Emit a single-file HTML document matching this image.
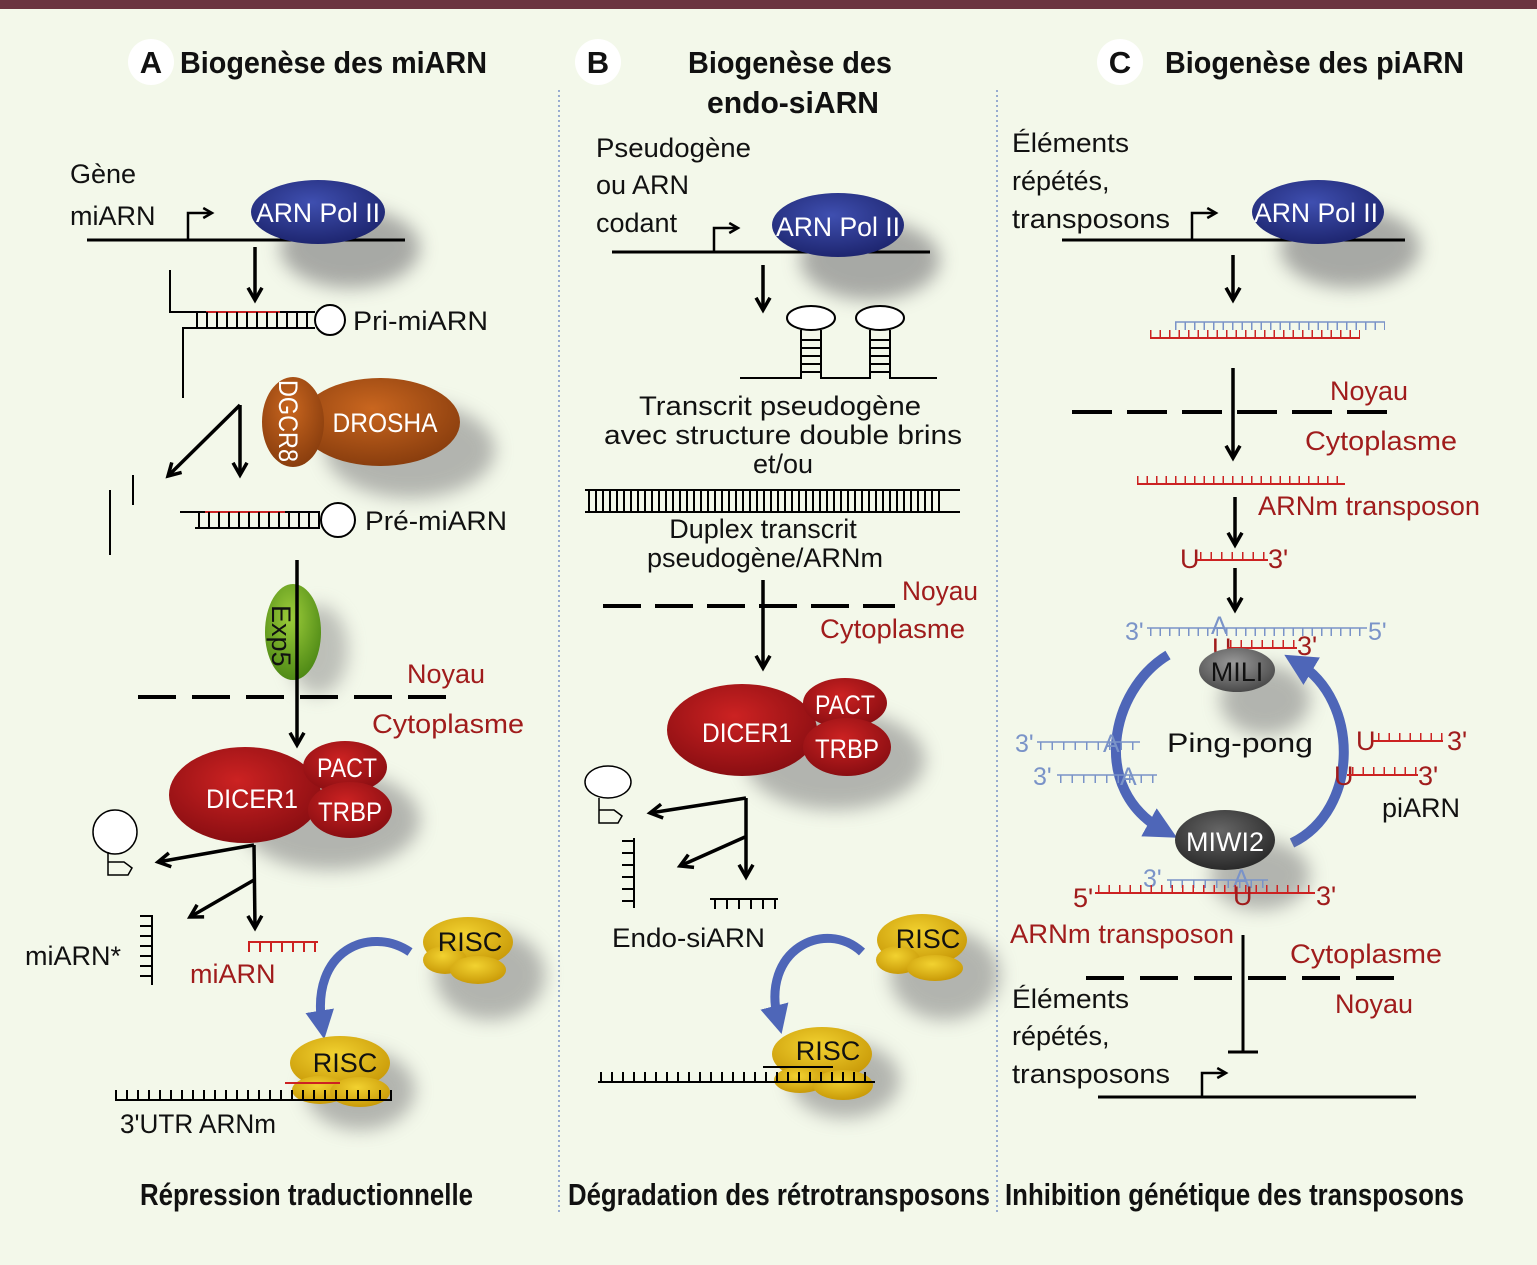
<!DOCTYPE html>
<html><head><meta charset="utf-8"><style>
html,body{margin:0;padding:0;background:#f3f8ea;}
svg{display:block;font-family:"Liberation Sans",sans-serif;}
.t{font-size:27px;fill:#111;}
.r{font-size:27px;fill:#a01c1c;}
.b{font-size:31px;font-weight:bold;fill:#111;}
.w{font-size:27px;fill:#fff;}
.bl{font-size:25px;fill:#7a93c8;}
</style></head><body>
<svg width="1537" height="1265" viewBox="0 0 1537 1265" xmlns="http://www.w3.org/2000/svg">
<defs>
<radialGradient id="gb" cx="45%" cy="35%" r="65%"><stop offset="0" stop-color="#3f4fb0"/><stop offset="1" stop-color="#1e2670"/></radialGradient>
<radialGradient id="gr" cx="45%" cy="35%" r="65%"><stop offset="0" stop-color="#cc2222"/><stop offset="1" stop-color="#8a0e12"/></radialGradient>
<radialGradient id="go" cx="45%" cy="35%" r="65%"><stop offset="0" stop-color="#c9661f"/><stop offset="1" stop-color="#8a3e0e"/></radialGradient>
<radialGradient id="gg" cx="45%" cy="35%" r="65%"><stop offset="0" stop-color="#9ccc3a"/><stop offset="1" stop-color="#4f8a16"/></radialGradient>
<radialGradient id="gy" cx="45%" cy="35%" r="65%"><stop offset="0" stop-color="#f2d230"/><stop offset="1" stop-color="#c99a08"/></radialGradient>
<radialGradient id="gk" cx="45%" cy="35%" r="65%"><stop offset="0" stop-color="#9a9a9a"/><stop offset="1" stop-color="#4a4a4a"/></radialGradient>
<radialGradient id="gk2" cx="45%" cy="35%" r="65%"><stop offset="0" stop-color="#666"/><stop offset="1" stop-color="#2a2a2a"/></radialGradient>
<filter id="bl" x="-50%" y="-50%" width="200%" height="200%"><feGaussianBlur stdDeviation="9"/></filter>
<marker id="ah" viewBox="0 0 10 10" refX="8" refY="5" markerWidth="5" markerHeight="5" orient="auto"><path d="M1,1 L8,5 L1,9" fill="none" stroke="#000" stroke-width="2"/></marker>
<marker id="ab" viewBox="0 0 10 10" refX="5" refY="5" markerWidth="3.2" markerHeight="3.2" orient="auto"><path d="M0,0 L10,5 L0,10 z" fill="#4e66b8"/></marker>
</defs>
<rect x="0" y="0" width="1537" height="1265" fill="#f3f8ea"/>
<rect x="0" y="0" width="1537" height="9" fill="#6b3440"/>
<line x1="559" y1="90" x2="559" y2="1212" stroke="#7a93c8" stroke-width="1.5" stroke-dasharray="2 3"/>
<line x1="997" y1="90" x2="997" y2="1212" stroke="#7a93c8" stroke-width="1.5" stroke-dasharray="2 3"/>

<circle cx="151" cy="62" r="23" fill="#fff"/><text x="151" y="73" class="b" text-anchor="middle" font-size="27">A</text>
<text x="180" y="73" class="b" textLength="307" lengthAdjust="spacingAndGlyphs">Biogenèse des miARN</text>
<circle cx="598" cy="62" r="23" fill="#fff"/><text x="598" y="73" class="b" text-anchor="middle" font-size="27">B</text>
<text x="688" y="73" class="b" textLength="204" lengthAdjust="spacingAndGlyphs">Biogenèse des</text>
<text x="707" y="113" class="b" textLength="172" lengthAdjust="spacingAndGlyphs">endo-siARN</text>
<circle cx="1120" cy="62" r="23" fill="#fff"/><text x="1120" y="73" class="b" text-anchor="middle" font-size="27">C</text>
<text x="1165" y="73" class="b" textLength="299" lengthAdjust="spacingAndGlyphs">Biogenèse des piARN</text>

<g stroke-linecap="butt">
<!-- ===== Panel A ===== -->
<text x="70" y="183" class="t">Gène</text>
<text x="70" y="225" class="t">miARN</text>
<ellipse cx="350" cy="248" rx="70" ry="40" fill="#888" opacity="0.7" filter="url(#bl)"/>
<line x1="87" y1="240" x2="405" y2="240" stroke="#000" stroke-width="3"/>
<polyline points="188,240 188,213 212,213" fill="none" stroke="#000" stroke-width="2.5" marker-end="url(#ah)"/>
<ellipse cx="318" cy="212" rx="67" ry="32" fill="url(#gb)"/>
<text x="318" y="222" class="w" text-anchor="middle" textLength="124" lengthAdjust="spacingAndGlyphs">ARN Pol II</text>
<line x1="255" y1="247" x2="255" y2="300" stroke="#000" stroke-width="3.5" marker-end="url(#ah)"/>
<polyline points="170,270 170,312 196,312" fill="none" stroke="#000" stroke-width="2"/>
<polyline points="183,398 183,328 196,328" fill="none" stroke="#000" stroke-width="2"/>
<line x1="196" y1="312" x2="315" y2="312" stroke="#000" stroke-width="2"/>
<line x1="206" y1="312" x2="280" y2="312" stroke="#c22" stroke-width="2"/>
<line x1="196" y1="328" x2="315" y2="328" stroke="#000" stroke-width="2"/>
<line x1="196" y1="320" x2="315" y2="320" stroke="#000" stroke-width="16" stroke-dasharray="2 8"/>
<circle cx="330" cy="320" r="15" fill="#fff" stroke="#000" stroke-width="2"/>
<text x="353" y="330" class="t" textLength="135" lengthAdjust="spacingAndGlyphs">Pri-miARN</text>
<ellipse cx="410" cy="450" rx="85" ry="48" fill="#888" opacity="0.6" filter="url(#bl)"/>
<ellipse cx="380" cy="422" rx="80" ry="44" fill="url(#go)"/>
<ellipse cx="293" cy="422" rx="31" ry="45" fill="url(#go)"/>
<text x="385" y="432" class="w" text-anchor="middle" textLength="105" lengthAdjust="spacingAndGlyphs">DROSHA</text>
<text transform="translate(279,380) rotate(90)" x="0" y="0" class="w" font-size="22" textLength="82" lengthAdjust="spacingAndGlyphs">DGCR8</text>
<line x1="240" y1="405" x2="240" y2="475" stroke="#000" stroke-width="3.5" marker-end="url(#ah)"/>
<path d="M240,405 L168,476" stroke="#000" stroke-width="3.5" marker-end="url(#ah)" fill="none"/>
<line x1="110" y1="490" x2="110" y2="555" stroke="#000" stroke-width="2"/>
<line x1="133" y1="475" x2="133" y2="505" stroke="#000" stroke-width="2"/>
<line x1="180" y1="512" x2="320" y2="512" stroke="#000" stroke-width="2"/>
<line x1="205" y1="512" x2="285" y2="512" stroke="#c22" stroke-width="2"/>
<line x1="195" y1="528" x2="320" y2="528" stroke="#000" stroke-width="2"/>
<line x1="198" y1="520" x2="320" y2="520" stroke="#000" stroke-width="16" stroke-dasharray="2 8"/>
<circle cx="338" cy="520" r="17" fill="#fff" stroke="#000" stroke-width="2"/>
<text x="365" y="530" class="t" textLength="142" lengthAdjust="spacingAndGlyphs">Pré-miARN</text>
<ellipse cx="318" cy="650" rx="30" ry="45" fill="#888" opacity="0.5" filter="url(#bl)"/>
<ellipse cx="293" cy="632" rx="28" ry="48" fill="url(#gg)"/>
<text transform="translate(272,605) rotate(90)" class="t" font-size="24" fill="#222">Exp5</text>
<line x1="297" y1="560" x2="297" y2="745" stroke="#000" stroke-width="3.5" marker-end="url(#ah)"/>
<line x1="138" y1="697" x2="462" y2="697" stroke="#000" stroke-width="4" stroke-dasharray="38 16"/>
<text x="407" y="683" class="r">Noyau</text>
<text x="372" y="733" class="r" textLength="152" lengthAdjust="spacingAndGlyphs">Cytoplasme</text>
<ellipse cx="330" cy="820" rx="90" ry="50" fill="#888" opacity="0.6" filter="url(#bl)"/>
<ellipse cx="245" cy="795" rx="76" ry="48" fill="url(#gr)"/>
<ellipse cx="345" cy="767" rx="42" ry="26" fill="url(#gr)"/>
<ellipse cx="350" cy="810" rx="42" ry="28" fill="url(#gr)"/>
<text x="252" y="808" class="w" text-anchor="middle" textLength="92" lengthAdjust="spacingAndGlyphs">DICER1</text>
<text x="347" y="777" class="w" text-anchor="middle" textLength="60" lengthAdjust="spacingAndGlyphs">PACT</text>
<text x="350" y="821" class="w" text-anchor="middle" textLength="64" lengthAdjust="spacingAndGlyphs">TRBP</text>
<circle cx="115" cy="832" r="22" fill="#fff" stroke="#000" stroke-width="1.5"/>
<path d="M108,852 V875 H128 L132,868 L124,862 H108" fill="none" stroke="#000" stroke-width="1.5"/>
<line x1="254" y1="845" x2="255" y2="928" stroke="#000" stroke-width="3.5" marker-end="url(#ah)"/>
<path d="M254,845 L158,862" stroke="#000" stroke-width="3.5" marker-end="url(#ah)" fill="none"/>
<path d="M254,880 L190,917" stroke="#000" stroke-width="3.5" marker-end="url(#ah)" fill="none"/>
<line x1="152" y1="915" x2="152" y2="985" stroke="#000" stroke-width="2"/>
<line x1="146" y1="915" x2="146" y2="985" stroke="#000" stroke-width="12" stroke-dasharray="2 8"/>
<text x="25" y="965" class="t">miARN*</text>
<line x1="248" y1="942" x2="318" y2="942" stroke="#c22" stroke-width="2"/>
<line x1="248" y1="947" x2="318" y2="947" stroke="#c22" stroke-width="10" stroke-dasharray="2 9"/>
<text x="190" y="983" class="r">miARN</text>
<ellipse cx="490" cy="975" rx="55" ry="45" fill="#888" opacity="0.6" filter="url(#bl)"/>
<ellipse cx="468" cy="942" rx="45" ry="25" fill="url(#gy)"/>
<ellipse cx="445" cy="960" rx="22" ry="14" fill="url(#gy)"/>
<ellipse cx="478" cy="970" rx="28" ry="14" fill="url(#gy)"/>
<text x="470" y="951" class="t" text-anchor="middle">RISC</text>
<path d="M410,952 C370,925 310,950 322,1025" fill="none" stroke="#4e66b8" stroke-width="9" marker-end="url(#ab)"/>
<ellipse cx="360" cy="1090" rx="55" ry="40" fill="#888" opacity="0.6" filter="url(#bl)"/>
<ellipse cx="340" cy="1063" rx="50" ry="27" fill="url(#gy)"/>
<ellipse cx="320" cy="1090" rx="28" ry="14" fill="url(#gy)"/>
<ellipse cx="360" cy="1092" rx="30" ry="15" fill="url(#gy)"/>
<text x="345" y="1072" class="t" text-anchor="middle">RISC</text>
<line x1="115" y1="1100" x2="392" y2="1100" stroke="#000" stroke-width="2"/>
<line x1="115" y1="1095" x2="392" y2="1095" stroke="#000" stroke-width="10" stroke-dasharray="2 9"/>
<line x1="285" y1="1083" x2="340" y2="1083" stroke="#c22" stroke-width="2"/>
<text x="120" y="1133" class="t" textLength="156" lengthAdjust="spacingAndGlyphs">3'UTR ARNm</text>
<text x="140" y="1205" class="b" font-size="27" textLength="333" lengthAdjust="spacingAndGlyphs">Répression traductionnelle</text>

<!-- ===== Panel B ===== -->
<text x="596" y="157" class="t" textLength="155" lengthAdjust="spacingAndGlyphs">Pseudogène</text>
<text x="596" y="194" class="t">ou ARN</text>
<text x="596" y="232" class="t">codant</text>
<ellipse cx="870" cy="260" rx="70" ry="40" fill="#888" opacity="0.7" filter="url(#bl)"/>
<line x1="612" y1="252" x2="930" y2="252" stroke="#000" stroke-width="3"/>
<polyline points="714,252 714,228 738,228" fill="none" stroke="#000" stroke-width="2.5" marker-end="url(#ah)"/>
<ellipse cx="838" cy="225" rx="66" ry="32" fill="url(#gb)"/>
<text x="838" y="236" class="w" text-anchor="middle" textLength="124" lengthAdjust="spacingAndGlyphs">ARN Pol II</text>
<line x1="763" y1="265" x2="763" y2="310" stroke="#000" stroke-width="3.5" marker-end="url(#ah)"/>
<g fill="none" stroke="#000" stroke-width="2">
<ellipse cx="811" cy="318" rx="24" ry="12" fill="#fff"/>
<ellipse cx="880" cy="318" rx="24" ry="12" fill="#fff"/>
<path d="M740,378 H801 V330 M821,330 V378 H870 V330 M890,330 V378 H937"/>
</g>
<g stroke="#000" stroke-width="2"><line x1="801" y1="340" x2="821" y2="340"/><line x1="801" y1="348" x2="821" y2="348"/><line x1="801" y1="356" x2="821" y2="356"/><line x1="801" y1="364" x2="821" y2="364"/><line x1="801" y1="372" x2="821" y2="372"/>
<line x1="870" y1="340" x2="890" y2="340"/><line x1="870" y1="348" x2="890" y2="348"/><line x1="870" y1="356" x2="890" y2="356"/><line x1="870" y1="364" x2="890" y2="364"/><line x1="870" y1="372" x2="890" y2="372"/></g>
<text x="780" y="415" class="t" text-anchor="middle" textLength="282" lengthAdjust="spacingAndGlyphs">Transcrit pseudogène</text>
<text x="783" y="444" class="t" text-anchor="middle" textLength="358" lengthAdjust="spacingAndGlyphs">avec structure double brins</text>
<text x="783" y="473" class="t" text-anchor="middle">et/ou</text>
<line x1="585" y1="490" x2="960" y2="490" stroke="#000" stroke-width="2"/>
<line x1="585" y1="512" x2="960" y2="512" stroke="#000" stroke-width="2"/>
<line x1="588" y1="501" x2="942" y2="501" stroke="#000" stroke-width="22" stroke-dasharray="2 5"/>
<text x="763" y="538" class="t" text-anchor="middle">Duplex transcrit</text>
<text x="765" y="567" class="t" text-anchor="middle" textLength="236" lengthAdjust="spacingAndGlyphs">pseudogène/ARNm</text>
<line x1="603" y1="606" x2="895" y2="606" stroke="#000" stroke-width="4" stroke-dasharray="38 14"/>
<text x="902" y="600" class="r" textLength="76" lengthAdjust="spacingAndGlyphs">Noyau</text>
<text x="820" y="638" class="r" textLength="145" lengthAdjust="spacingAndGlyphs">Cytoplasme</text>
<line x1="763" y1="580" x2="763" y2="668" stroke="#000" stroke-width="3.5" marker-end="url(#ah)"/>
<ellipse cx="835" cy="760" rx="90" ry="50" fill="#888" opacity="0.6" filter="url(#bl)"/>
<ellipse cx="742" cy="730" rx="75" ry="46" fill="url(#gr)"/>
<ellipse cx="845" cy="703" rx="42" ry="25" fill="url(#gr)"/>
<ellipse cx="847" cy="747" rx="44" ry="29" fill="url(#gr)"/>
<text x="747" y="742" class="w" text-anchor="middle" textLength="90" lengthAdjust="spacingAndGlyphs">DICER1</text>
<text x="845" y="714" class="w" text-anchor="middle" textLength="60" lengthAdjust="spacingAndGlyphs">PACT</text>
<text x="847" y="758" class="w" text-anchor="middle" textLength="64" lengthAdjust="spacingAndGlyphs">TRBP</text>
<ellipse cx="608" cy="782" rx="23" ry="16" fill="#fff" stroke="#000" stroke-width="1.5"/>
<path d="M599,798 V823 H618 L622,816 L614,810 H599" fill="none" stroke="#000" stroke-width="1.5"/>
<line x1="746" y1="798" x2="746" y2="877" stroke="#000" stroke-width="3.5" marker-end="url(#ah)"/>
<path d="M746,798 L650,813" stroke="#000" stroke-width="3.5" marker-end="url(#ah)" fill="none"/>
<path d="M745,837 L680,866" stroke="#000" stroke-width="3.5" marker-end="url(#ah)" fill="none"/>
<line x1="634" y1="838" x2="634" y2="908" stroke="#000" stroke-width="2"/>
<line x1="628" y1="840" x2="628" y2="908" stroke="#000" stroke-width="12" stroke-dasharray="2 10"/>
<line x1="710" y1="899" x2="778" y2="899" stroke="#000" stroke-width="2"/>
<line x1="714" y1="904" x2="778" y2="904" stroke="#000" stroke-width="10" stroke-dasharray="2 10"/>
<text x="612" y="947" class="t" textLength="153" lengthAdjust="spacingAndGlyphs">Endo-siARN</text>
<ellipse cx="945" cy="975" rx="55" ry="45" fill="#888" opacity="0.6" filter="url(#bl)"/>
<ellipse cx="922" cy="940" rx="45" ry="26" fill="url(#gy)"/>
<ellipse cx="898" cy="960" rx="22" ry="14" fill="url(#gy)"/>
<ellipse cx="935" cy="968" rx="28" ry="13" fill="url(#gy)"/>
<text x="928" y="948" class="t" text-anchor="middle">RISC</text>
<path d="M862,952 C825,918 760,950 778,1020" fill="none" stroke="#4e66b8" stroke-width="9" marker-end="url(#ab)"/>
<ellipse cx="845" cy="1080" rx="55" ry="38" fill="#888" opacity="0.6" filter="url(#bl)"/>
<ellipse cx="822" cy="1054" rx="50" ry="27" fill="url(#gy)"/>
<ellipse cx="800" cy="1080" rx="26" ry="13" fill="url(#gy)"/>
<ellipse cx="843" cy="1085" rx="30" ry="15" fill="url(#gy)"/>
<text x="828" y="1060" class="t" text-anchor="middle">RISC</text>
<line x1="598" y1="1082" x2="875" y2="1082" stroke="#000" stroke-width="2"/>
<line x1="600" y1="1077" x2="875" y2="1077" stroke="#000" stroke-width="10" stroke-dasharray="2 9"/>
<line x1="763" y1="1067" x2="833" y2="1067" stroke="#000" stroke-width="2"/>
<text x="568" y="1205" class="b" font-size="27" textLength="422" lengthAdjust="spacingAndGlyphs">Dégradation des rétrotransposons</text>

<!-- ===== Panel C ===== -->
<text x="1012" y="152" class="t" textLength="117" lengthAdjust="spacingAndGlyphs">Éléments</text>
<text x="1012" y="190" class="t">répétés,</text>
<text x="1012" y="228" class="t" textLength="158" lengthAdjust="spacingAndGlyphs">transposons</text>
<ellipse cx="1350" cy="248" rx="70" ry="40" fill="#888" opacity="0.7" filter="url(#bl)"/>
<line x1="1062" y1="240" x2="1405" y2="240" stroke="#000" stroke-width="3"/>
<polyline points="1192,240 1192,213 1216,213" fill="none" stroke="#000" stroke-width="2.5" marker-end="url(#ah)"/>
<ellipse cx="1318" cy="212" rx="66" ry="32" fill="url(#gb)"/>
<text x="1316" y="222" class="w" text-anchor="middle" textLength="124" lengthAdjust="spacingAndGlyphs">ARN Pol II</text>
<line x1="1233" y1="255" x2="1233" y2="300" stroke="#000" stroke-width="3.5" marker-end="url(#ah)"/>
<line x1="1175" y1="322" x2="1385" y2="322" stroke="#7a93c8" stroke-width="1.5"/>
<line x1="1175" y1="326" x2="1385" y2="326" stroke="#7a93c8" stroke-width="8" stroke-dasharray="1.5 8"/>
<line x1="1150" y1="338" x2="1360" y2="338" stroke="#c22" stroke-width="2"/>
<line x1="1150" y1="334" x2="1360" y2="334" stroke="#c22" stroke-width="8" stroke-dasharray="1.5 8"/>
<line x1="1072" y1="412" x2="1392" y2="412" stroke="#000" stroke-width="4" stroke-dasharray="40 15"/>
<line x1="1233" y1="368" x2="1233" y2="458" stroke="#000" stroke-width="3.5" marker-end="url(#ah)"/>
<text x="1330" y="400" class="r" textLength="78" lengthAdjust="spacingAndGlyphs">Noyau</text>
<text x="1305" y="450" class="r" textLength="152" lengthAdjust="spacingAndGlyphs">Cytoplasme</text>
<line x1="1137" y1="484" x2="1345" y2="484" stroke="#c22" stroke-width="2"/>
<line x1="1137" y1="480" x2="1345" y2="480" stroke="#c22" stroke-width="8" stroke-dasharray="1.5 8"/>
<text x="1258" y="515" class="r" textLength="222" lengthAdjust="spacingAndGlyphs">ARNm transposon</text>
<line x1="1235" y1="497" x2="1235" y2="545" stroke="#000" stroke-width="3.5" marker-end="url(#ah)"/>
<text x="1180" y="568" class="r" font-size="25">U</text>
<line x1="1197" y1="560" x2="1268" y2="560" stroke="#c22" stroke-width="2"/>
<line x1="1200" y1="556" x2="1268" y2="556" stroke="#c22" stroke-width="8" stroke-dasharray="1.5 9"/>
<text x="1268" y="568" class="r" font-size="25">3'</text>
<line x1="1235" y1="568" x2="1235" y2="610" stroke="#000" stroke-width="3.5" marker-end="url(#ah)"/>
<text x="1125" y="640" class="bl">3'</text>
<line x1="1147" y1="628" x2="1367" y2="628" stroke="#7a93c8" stroke-width="1.5"/>
<line x1="1150" y1="632" x2="1367" y2="632" stroke="#7a93c8" stroke-width="8" stroke-dasharray="1.5 8"/>
<text x="1368" y="640" class="bl">5'</text>
<text x="1211" y="634" class="bl">A</text>
<text x="1212" y="657" class="r" font-size="24">U</text>
<line x1="1227" y1="648" x2="1297" y2="648" stroke="#c22" stroke-width="2"/>
<line x1="1230" y1="644" x2="1297" y2="644" stroke="#c22" stroke-width="8" stroke-dasharray="1.5 9"/>
<text x="1297" y="655" class="r" font-size="25">3'</text>
<ellipse cx="1265" cy="700" rx="45" ry="35" fill="#888" opacity="0.6" filter="url(#bl)"/>
<ellipse cx="1237" cy="670" rx="38" ry="22" fill="url(#gk)"/>
<text x="1237" y="681" class="t" text-anchor="middle">MILI</text>
<path d="M1168,655 C1110,690 1090,790 1163,830" fill="none" stroke="#4e66b8" stroke-width="10" marker-end="url(#ab)"/>
<path d="M1292,843 C1360,810 1360,700 1298,663" fill="none" stroke="#4e66b8" stroke-width="10" marker-end="url(#ab)"/>
<text x="1167" y="752" class="t" font-size="33" textLength="146" lengthAdjust="spacingAndGlyphs">Ping-pong</text>
<text x="1015" y="752" class="bl">3'</text>
<line x1="1037" y1="742" x2="1140" y2="742" stroke="#7a93c8" stroke-width="1.5"/>
<line x1="1040" y1="746" x2="1140" y2="746" stroke="#7a93c8" stroke-width="8" stroke-dasharray="1.5 10"/>
<text x="1103" y="752" class="bl">A</text>
<text x="1033" y="785" class="bl">3'</text>
<line x1="1057" y1="775" x2="1157" y2="775" stroke="#7a93c8" stroke-width="1.5"/>
<line x1="1060" y1="779" x2="1157" y2="779" stroke="#7a93c8" stroke-width="8" stroke-dasharray="1.5 10"/>
<text x="1120" y="785" class="bl">A</text>
<text x="1356" y="750" class="r" font-size="25">U</text>
<line x1="1373" y1="741" x2="1443" y2="741" stroke="#c22" stroke-width="2"/>
<line x1="1378" y1="737" x2="1443" y2="737" stroke="#c22" stroke-width="8" stroke-dasharray="1.5 9"/>
<text x="1447" y="750" class="r" font-size="25">3'</text>
<text x="1334" y="785" class="r" font-size="25">U</text>
<line x1="1347" y1="775" x2="1418" y2="775" stroke="#c22" stroke-width="2"/>
<line x1="1352" y1="771" x2="1418" y2="771" stroke="#c22" stroke-width="8" stroke-dasharray="1.5 9"/>
<text x="1418" y="785" class="r" font-size="25">3'</text>
<text x="1382" y="817" class="t" font-size="30">piARN</text>
<ellipse cx="1260" cy="875" rx="50" ry="35" fill="#888" opacity="0.6" filter="url(#bl)"/>
<ellipse cx="1225" cy="840" rx="50" ry="30" fill="url(#gk2)"/>
<text x="1225" y="851" class="w" text-anchor="middle">MIWI2</text>
<text x="1143" y="887" class="bl">3'</text>
<line x1="1167" y1="880" x2="1268" y2="880" stroke="#7a93c8" stroke-width="1.5"/>
<line x1="1170" y1="884" x2="1268" y2="884" stroke="#7a93c8" stroke-width="8" stroke-dasharray="1.5 10"/>
<text x="1233" y="887" class="bl">A</text>
<text x="1073" y="907" class="r" font-size="25">5'</text>
<line x1="1095" y1="893" x2="1315" y2="893" stroke="#c22" stroke-width="2"/>
<line x1="1098" y1="889" x2="1315" y2="889" stroke="#c22" stroke-width="8" stroke-dasharray="1.5 9"/>
<text x="1233" y="905" class="r" font-size="25">U</text>
<text x="1316" y="905" class="r" font-size="25">3'</text>
<text x="1010" y="943" class="r" textLength="224" lengthAdjust="spacingAndGlyphs">ARNm transposon</text>
<line x1="1243" y1="935" x2="1243" y2="1052" stroke="#000" stroke-width="3"/>
<line x1="1228" y1="1052" x2="1258" y2="1052" stroke="#000" stroke-width="3"/>
<line x1="1086" y1="978" x2="1405" y2="978" stroke="#000" stroke-width="4" stroke-dasharray="38 16"/>
<text x="1290" y="963" class="r" textLength="152" lengthAdjust="spacingAndGlyphs">Cytoplasme</text>
<text x="1335" y="1013" class="r" textLength="78" lengthAdjust="spacingAndGlyphs">Noyau</text>
<text x="1012" y="1008" class="t" textLength="117" lengthAdjust="spacingAndGlyphs">Éléments</text>
<text x="1012" y="1045" class="t">répétés,</text>
<text x="1012" y="1083" class="t" textLength="158" lengthAdjust="spacingAndGlyphs">transposons</text>
<line x1="1098" y1="1097" x2="1416" y2="1097" stroke="#000" stroke-width="3"/>
<polyline points="1202,1097 1202,1073 1226,1073" fill="none" stroke="#000" stroke-width="2.5" marker-end="url(#ah)"/>
<text x="1005" y="1205" class="b" font-size="27" textLength="459" lengthAdjust="spacingAndGlyphs">Inhibition génétique des transposons</text>
</g>
</svg>
</body></html>
